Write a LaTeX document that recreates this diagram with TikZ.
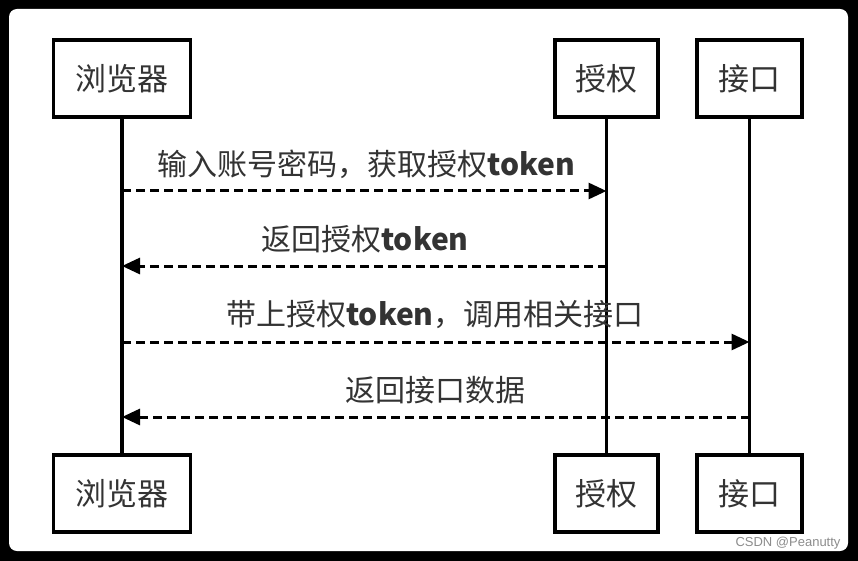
\documentclass[tikz,border=0pt]{standalone}
\usepackage{fontspec}
\newfontfamily\cjk{Noto Sans CJK SC}
\setsansfont{Liberation Sans}
\usetikzlibrary{arrows.meta,positioning}

\newcommand{\tok}{\textbf{token}}

\begin{document}
\begin{tikzpicture}[x=1pt, y=-1pt,
    actor/.style={rectangle, draw, line width=3.5pt, minimum height=77pt, inner sep=0pt, font=\cjk\fontsize{31}{31}\selectfont, text=black!80},
    life/.style={line width=3.5pt},
    msg/.style={line width=3pt, dash pattern=on 9pt off 5pt, -{Triangle[length=18pt,width=16pt]}},
    lbl/.style={font=\cjk\fontsize{30}{30}\selectfont, text=black!80},
]
    % Frame
    \fill[black] (0,0) rectangle (858,561);
    \fill[white, rounded corners=8pt] (9,9) rectangle (848,551);

    % Actors, top row
    \node[actor, minimum width=137pt] (brTop) at (122,78.5) {浏览器};
    \node[actor, minimum width=103pt] (auTop) at (606.5,78.5) {授权};
    \node[actor, minimum width=105pt] (ifTop) at (749.5,78.5) {接口};

    % Actors, bottom row
    \node[actor, minimum width=137pt] (brBot) at (122,493.5) {浏览器};
    \node[actor, minimum width=103pt] (auBot) at (606.5,493.5) {授权};
    \node[actor, minimum width=105pt] (ifBot) at (749.5,493.5) {接口};

    % Lifelines
    \draw[life] (brTop) -- (brBot);
    \draw[life] (auTop) -- (auBot);
    \draw[life] (ifTop) -- (ifBot);

    % Messages
    \draw[msg] (brTop.south |- 0,191) -- (auTop.south |- 0,191);
    \node[lbl] (m1) at (366,164) {输入账号密码，获取授权\tok};
    \draw[msg] (auTop.south |- 0,266) -- (brTop.south |- 0,266);
    \node[lbl] (m2) at (365,239) {返回授权\tok};
    \draw[msg] (brTop.south |- 0,342) -- (ifTop.south |- 0,342);
    \node[lbl] (m3) at (435,315) {带上授权\tok，调用相关接口};
    \draw[msg] (ifTop.south |- 0,417) -- (brTop.south |- 0,417);
    \node[lbl] (m4) at (435,390) {返回接口数据};

    % Watermark
    \node[font=\sffamily\fontsize{13}{13}\selectfont, text=black!45, anchor=east] (mark) at (844,543) {CSDN @Peanutty};
\end{tikzpicture}
\end{document}
